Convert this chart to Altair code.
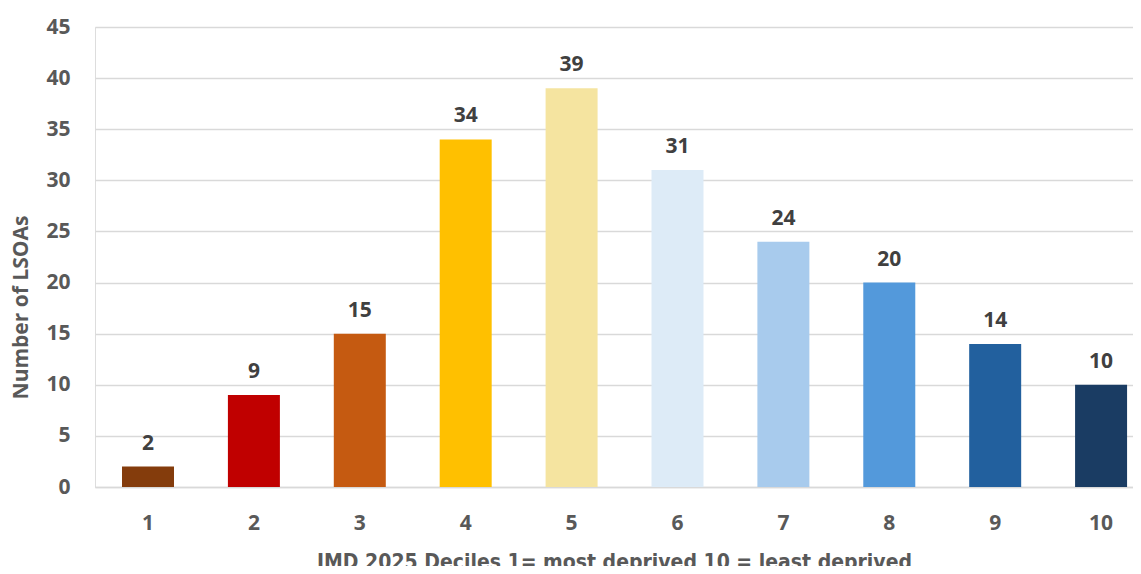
import altair as alt
import pandas as pd

deciles = ["1", "2", "3", "4", "5", "6", "7", "8", "9", "10"]
counts = [2, 9, 15, 34, 39, 31, 24, 20, 14, 10]
colors = ["#843C0C", "#C00000", "#C55A11", "#FFC000", "#F5E4A0",
          "#DDEBF7", "#A8CBED", "#5399DB", "#22609E", "#1A3C63"]

df = pd.DataFrame({"decile": deciles, "count": counts})

FONT = "Open Sans"
NARROW = "DejaVu Sans Condensed, Liberation Sans Narrow, Open Sans"

x = alt.X(
    "decile:N",
    sort=deciles,
    scale=alt.Scale(paddingInner=0.509, paddingOuter=0.1555, align=0.82),
    axis=alt.Axis(
        title="IMD 2025 Deciles 1= most deprived 10 = least deprived",
        labelAngle=0,
        labelFont=FONT,
        labelFontSize=21,
        labelFontWeight="bold",
        labelColor="#595959",
        labelPadding=36,
        labelBaseline="middle",
        ticks=False,
        domain=True,
        domainColor="#D9D9D9",
        domainWidth=1.5,
        titleFont=NARROW,
        titleFontSize=21,
        titleFontWeight="bold",
        titleColor="#595959",
        titleY=75,
        titleBaseline="middle",
    ),
)

y = alt.Y(
    "count:Q",
    scale=alt.Scale(domain=[0, 45], nice=False),
    axis=alt.Axis(
        title="Number of LSOAs",
        values=list(range(0, 50, 5)),
        labelFont=FONT,
        labelFontSize=21,
        labelFontWeight="bold",
        labelColor="#595959",
        labelPadding=25,
        ticks=False,
        domain=False,
        gridColor="#D9D9D9",
        gridWidth=1.5,
        titleFont=FONT,
        titleFontSize=21,
        titleFontWeight="bold",
        titleColor="#595959",
        titleAngle=270,
        titleX=-74,
        titleY=280,
        titleAlign="center",
        titleBaseline="middle",
    ),
)

bars = alt.Chart(df).mark_bar().encode(
    x=x,
    y=y,
    color=alt.Color("decile:N", sort=deciles,
                    scale=alt.Scale(domain=deciles, range=colors), legend=None),
)

labels = alt.Chart(df).mark_text(
    font=FONT, fontSize=21, fontWeight="bold", color="#404040",
    baseline="alphabetic", dy=-17,
).encode(
    x=alt.X("decile:N", sort=deciles),
    y="count:Q",
    text="count:Q",
)

chart = alt.layer(bars, labels).properties(
    width=1038,
    height=460,
    autosize=alt.AutoSizeParams(type="none"),
    padding={"left": 87, "top": 19, "right": 0, "bottom": 79},
).configure_view(stroke=None).configure(background="white")

chart.save("out.html", embed_options={"renderer": "svg", "actions": False})
